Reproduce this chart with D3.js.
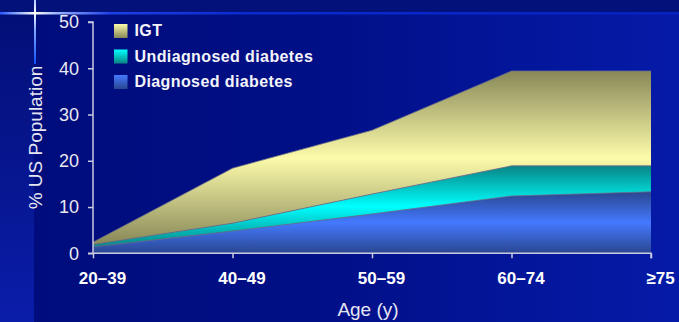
<!DOCTYPE html>
<html>
<head>
<meta charset="utf-8">
<script src="https://cdn.jsdelivr.net/npm/d3@7"></script>
<style>
  html, body { margin: 0; padding: 0; background: #000e80; }
  svg { display: block; }
  text { font-family: "Liberation Sans", Arial, sans-serif; }
</style>
</head>
<body>
<svg id="chart" width="679" height="322"></svg>
<script>
// Prevalence of glucose disorders by age group (% of US population)
const ageGroups = ["20–39", "40–49", "50–59", "60–74", "≥75"];
const diagnosed = [1.4, 4.8, 8.5, 12.4, 13.3];
const undiagnosed = [0.5, 1.7, 4.3, 6.5, 5.6];
const igt = [0.5, 11.9, 13.8, 20.5, 20.5];
const yTicks = [0, 10, 20, 30, 40, 50];
const seriesNames = ["Diagnosed diabetes", "Undiagnosed diabetes", "IGT"];
const legendOrder = ["IGT", "Undiagnosed diabetes", "Diagnosed diabetes"];

const W = 679, H = 322;
const svg = d3.select("#chart");
const defs = svg.append("defs");

// ---- background ----
const bgGrad = defs.append("linearGradient").attr("id", "bg")
  .attr("x1", 0).attr("y1", 0).attr("x2", 1).attr("y2", 0);
bgGrad.append("stop").attr("offset", 0).attr("stop-color", "#000c7a");
bgGrad.append("stop").attr("offset", 0.45).attr("stop-color", "#010f86");
bgGrad.append("stop").attr("offset", 1).attr("stop-color", "#051aa8");
svg.append("rect").attr("width", W).attr("height", H).attr("fill", "url(#bg)");

const stripGrad = defs.append("linearGradient").attr("id", "strip")
  .attr("x1", 0).attr("y1", 0).attr("x2", 0).attr("y2", 1);
stripGrad.append("stop").attr("offset", 0).attr("stop-color", "#030f78");
stripGrad.append("stop").attr("offset", 0.45).attr("stop-color", "#06158c");
stripGrad.append("stop").attr("offset", 1).attr("stop-color", "#0a1daa");
svg.append("rect").attr("x", 0).attr("y", 13).attr("width", 34).attr("height", H - 13)
  .attr("fill", "url(#strip)");

svg.append("rect").attr("x", 0).attr("y", 0).attr("width", W).attr("height", 13)
  .attr("fill", "#03117a");

const hLine = defs.append("linearGradient").attr("id", "hline")
  .attr("gradientUnits", "userSpaceOnUse").attr("x1", 0).attr("y1", 0).attr("x2", W).attr("y2", 0);
[[0, "#2a55ff"], [18, "#90b0ff"], [35, "#fffff0"], [55, "#a0b8ff"], [110, "#1c40e8"], [250, "#0a2ad0"], [W, "#0622c0"]]
  .forEach(([o, c]) => hLine.append("stop").attr("offset", o / W).attr("stop-color", c));
svg.append("rect").attr("x", 0).attr("y", 12).attr("width", W).attr("height", 2.5)
  .attr("fill", "url(#hline)");

const vLine = defs.append("linearGradient").attr("id", "vline")
  .attr("gradientUnits", "userSpaceOnUse").attr("x1", 0).attr("y1", 0).attr("x2", 0).attr("y2", 64);
[[0, "#b0c8ff"], [13, "#ffffff"], [30, "#80a8ff"], [64, "#1050ff"]]
  .forEach(([o, c]) => vLine.append("stop").attr("offset", o / 64).attr("stop-color", c));
svg.append("rect").attr("x", 34).attr("y", 0).attr("width", 2).attr("height", 64)
  .attr("fill", "url(#vline)");

// ---- fills ----
const palette = {
  "IGT": { dark: "#888858", bright: "#fcfbaa" },
  "Undiagnosed diabetes": { dark: "#088484", bright: "#00ffff" },
  "Diagnosed diabetes": { dark: "#2a4690", bright: "#4479ff" }
};
const slug = n => n.replace(/\s+/g, "-").toLowerCase();

seriesNames.forEach(name => {
  const p = palette[name];
  const g = defs.append("linearGradient").attr("id", "area-" + slug(name))
    .attr("x1", 0).attr("y1", 0).attr("x2", 0).attr("y2", 1);
  g.append("stop").attr("offset", 0).attr("stop-color", p.dark);
  g.append("stop").attr("offset", 0.5).attr("stop-color", p.bright);
  g.append("stop").attr("offset", 1).attr("stop-color", p.dark);

  const s = defs.append("linearGradient").attr("id", "key-" + slug(name))
    .attr("x1", 0).attr("y1", 0).attr("x2", 0).attr("y2", 1);
  s.append("stop").attr("offset", 0).attr("stop-color", p.bright);
  s.append("stop").attr("offset", 1).attr("stop-color", p.dark);
});

// ---- scales ----
const x = d3.scalePoint().domain(ageGroups).range([93, 651]);
const y = d3.scaleLinear().domain([0, 50]).range([253.3, 22]);

const rows = ageGroups.map((a, i) => ({
  age: a,
  "Diagnosed diabetes": diagnosed[i],
  "Undiagnosed diabetes": undiagnosed[i],
  "IGT": igt[i]
}));
const stacked = d3.stack().keys(seriesNames)(rows);

const area = d3.area()
  .x(d => x(d.data.age))
  .y0(d => y(d[0]))
  .y1(d => y(d[1]));
const topLine = d3.line()
  .x(d => x(d.data.age))
  .y(d => y(d[1]));

const plot = svg.append("g");
plot.selectAll("path.layer").data(stacked).join("path")
  .attr("class", "layer")
  .attr("d", area)
  .attr("fill", d => "url(#area-" + slug(d.key) + ")");
plot.selectAll("path.edge").data(stacked).join("path")
  .attr("class", "edge")
  .attr("d", topLine)
  .attr("fill", "none")
  .attr("stroke", "#6e7088")
  .attr("stroke-width", 1)
  .attr("stroke-opacity", 0.8);

// ---- axes ----
const axisColor = "#c9cbe0";
const yAxis = svg.append("g").attr("transform", "translate(93,0)")
  .call(d3.axisLeft(y).tickValues(yTicks).tickSize(5).tickPadding(9).tickFormat(d3.format("d")));
yAxis.select(".domain").attr("stroke", axisColor).attr("stroke-width", 1.5)
  .attr("d", `M-5,${y(50)}H0V${y(0)}`);
yAxis.selectAll(".tick line").attr("stroke", axisColor).attr("stroke-width", 1.5);
yAxis.selectAll(".tick text").attr("fill", "#e8e8f2").attr("font-size", 18)
  .attr("font-family", "Liberation Sans, Arial, sans-serif");

const xAxis = svg.append("g").attr("transform", `translate(0,${y(0)})`)
  .call(d3.axisBottom(x).tickSize(5).tickPadding(14));
xAxis.select(".domain").attr("stroke", axisColor).attr("stroke-width", 1.5)
  .attr("d", `M88,0H${x("≥75")}V5`);
xAxis.selectAll(".tick line").attr("stroke", axisColor).attr("stroke-width", 1.5);
xAxis.selectAll(".tick text").attr("fill", "#ffffff").attr("font-size", 17)
  .attr("font-weight", "bold").attr("dx", 9)
  .attr("font-family", "Liberation Sans, Arial, sans-serif");

// axis titles
svg.append("text")
  .attr("transform", "translate(41.5,137.5) rotate(-90)")
  .attr("text-anchor", "middle")
  .attr("fill", "#e6e6f2").attr("font-size", 19)
  .text("% US Population");
svg.append("text")
  .attr("x", 368).attr("y", 316)
  .attr("text-anchor", "middle")
  .attr("fill", "#e6e6f2").attr("font-size", 19)
  .text("Age (y)");

// ---- legend ----
const legend = svg.append("g").attr("transform", "translate(114,24)");
const item = legend.selectAll("g").data(legendOrder).join("g")
  .attr("transform", (d, i) => `translate(0,${i * 25.5})`);
item.append("rect").attr("width", 13.5).attr("height", 14)
  .attr("fill", d => "url(#key-" + slug(d) + ")");
item.append("text").attr("x", 20.5).attr("y", 12)
  .attr("fill", "#f4f4fa").attr("font-size", 16).attr("font-weight", "bold")
  .attr("letter-spacing", 0.4)
  .text(d => d);
</script>
</body>
</html>
